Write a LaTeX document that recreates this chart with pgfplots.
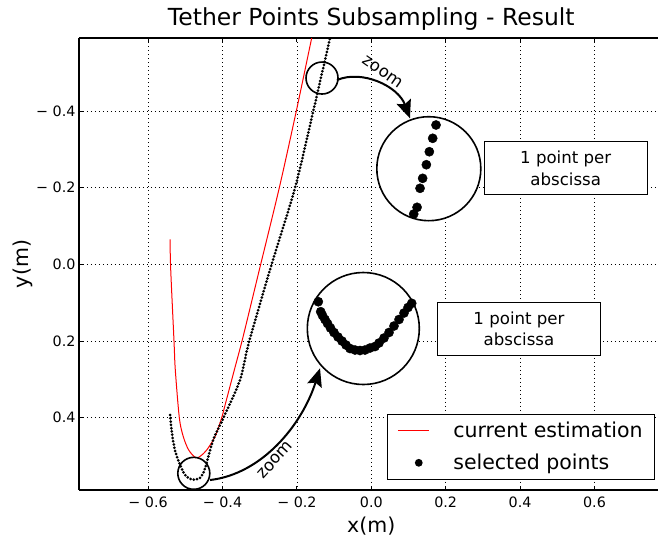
\documentclass[border=0pt]{standalone}
\usepackage{fontspec}
\setmainfont{DejaVu Sans}
\usepackage{pgfplots}
\pgfplotsset{compat=1.18}
\usetikzlibrary{calc,arrows.meta}

\begin{document}
\begin{tikzpicture}
\begin{axis}[
    name=ax,
    scale only axis,
    width=579pt, height=452pt,
    xmin=-0.7858, xmax=0.7707,
    ymin=-0.5904, ymax=0.5885,
    y dir=reverse,
    axis y line*=left,
    axis line style={line width=1.3pt},
    clip mode=individual,
    xtick={-0.6,-0.4,-0.2,0,0.2,0.4,0.6},
    xticklabels={−\ 0.6,−\ 0.4,−\ 0.2,0.0,0.2,0.4,0.6},
    ytick={-0.4,-0.2,0,0.2,0.4},
    yticklabels={−\ 0.4,−\ 0.2,0.0,0.2,0.4},
    ticklabel style={font=\fontsize{14.3}{16}\selectfont},
    xticklabel style={yshift=-3pt},
    tick align=inside,
    major tick length=4pt,
    tick style={black, line width=1pt},
    grid=major,
    major grid style={black, line width=0.7pt, dash pattern=on 0.8pt off 3.2pt},
    title={Tether Points Subsampling - Result},
    title style={at={(axis description cs:0.5048,1.0133)}, anchor=base, inner sep=0pt, font=\fontsize{23.5}{27}\selectfont},
    xlabel={x(m)},
    xlabel style={at={(axis description cs:0.5048,-0.0951)}, anchor=base, inner sep=0pt, font=\fontsize{20.5}{24}\selectfont},
    ylabel={y(m)},
    ylabel style={at={(axis description cs:-0.088,0.5)}, anchor=base, inner sep=0pt, font=\fontsize{20.5}{24}\selectfont},
    legend style={at={(1,0)}, anchor=south east, xshift=-2.7pt, yshift=10pt,
        draw=black, line width=1.3pt, fill=white,
        font=\fontsize{20.5}{24}\selectfont,
        inner xsep=10pt, inner ysep=6pt, row sep=11pt,
        /tikz/every odd column/.append style={column sep=22pt}},
    legend cell align=left,
]

% current estimation
\addplot[red, line width=1pt, smooth, tension=0.5,
    legend image code/.code={\draw[red, line width=1pt] (0pt,0pt) -- (31pt,0pt);}]
coordinates {
    (-0.5411,-0.0653) (-0.5392,0.0147) (-0.5304,0.2) (-0.5269,0.2756)
    (-0.5161,0.4) (-0.5054,0.4495) (-0.4909,0.4842) (-0.4720,0.5043)
    (-0.4591,0.4999) (-0.4425,0.4842) (-0.4202,0.4495) (-0.4022,0.4)
    (-0.3919,0.3624) (-0.3683,0.2756) (-0.3476,0.2) (-0.3228,0.1016)
    (-0.3011,0.0147) (-0.2473,-0.2) (-0.2016,-0.4) (-0.1602,-0.5904) (-0.155,-0.61)
};
\addlegendentry{current estimation}

% selected points
\addplot[black, line width=3pt, line cap=round, dash pattern=on 0pt off 3.3pt,
    smooth, tension=0.5,
    legend image code/.code={\node[circle, fill=black, inner sep=0pt, minimum size=7.8pt] at (15.5pt,0pt) {};}]
coordinates {
    (-0.541,0.393) (-0.537,0.432) (-0.528,0.484) (-0.514,0.523) (-0.501,0.549)
    (-0.483,0.561) (-0.4605,0.557) (-0.447,0.532) (-0.425,0.458) (-0.396,0.397)
    (-0.353,0.3016) (-0.328,0.2) (-0.268,0.0) (-0.205,-0.2) (-0.156,-0.4)
    (-0.111,-0.590) (-0.106,-0.61)
};
\addlegendentry{selected points}

% zoom circles
\draw[line width=1.6pt] (axis cs:-0.1325,-0.4860) circle[radius=16pt];
\draw[line width=1.6pt] (axis cs:-0.4772,0.5450) circle[radius=16pt];
\draw[line width=1.6pt, fill=white] (axis cs:0.1546,-0.2495) circle[radius=52pt];
\draw[line width=1.6pt, fill=white] (axis cs:-0.0215,0.1673) circle[radius=56pt];

% zoomed points
\addplot[only marks, mark=*, mark size=4.6pt, black, forget plot] coordinates {
    (0.174,-0.3635) (0.165,-0.3288) (0.156,-0.2938) (0.148,-0.2599)
    (0.138,-0.2244) (0.131,-0.1984) (0.123,-0.1488) (0.114,-0.1313)
};
\addplot[only marks, mark=*, mark size=4.6pt, black, forget plot] coordinates {
    (-0.1425,0.0974) (-0.1360,0.1235) (-0.1312,0.1334) (-0.1245,0.1438)
    (-0.1177,0.1543) (-0.1097,0.1660) (-0.1003,0.1778) (-0.0895,0.1895)
    (-0.0788,0.2000) (-0.0680,0.2104) (-0.0573,0.2195) (-0.0438,0.2234)
    (-0.0304,0.2247) (-0.0169,0.2234) (-0.0035,0.2182) (0.0099,0.2143)
    (0.0207,0.2051) (0.0341,0.1921) (0.0476,0.1777) (0.0610,0.1608)
    (0.0745,0.1438) (0.0879,0.1269) (0.0987,0.1125) (0.1086,0.1016)
};

% arrows
\draw[line width=2pt, -{Stealth[length=18pt,width=15pt,inset=3pt]}]
    (axis cs:-0.0922,-0.4808) .. controls (axis cs:-0.0250,-0.5085) and (axis cs:0.0718,-0.4652) .. (axis cs:0.1040,-0.3809);
\draw[line width=2pt, -{Stealth[length=18pt,width=15pt,inset=3pt]}]
    (axis cs:-0.4336,0.5625) .. controls (axis cs:-0.2938,0.5468) and (axis cs:-0.1863,0.4190) .. (axis cs:-0.1379,0.2711);
\node[rotate=-35, font=\fontsize{16.5}{18}\selectfont] at (axis cs:0.031,-0.5020) {zoom};
\node[rotate=48, font=\fontsize{16.5}{18}\selectfont] at (axis cs:-0.2590,0.5100) {zoom};

% notes
\node[draw=black, line width=1pt, fill=white, minimum width=163pt, minimum height=53pt,
    align=center, inner sep=0pt, font=\fontsize{16.6}{21.6}\selectfont]
    at (axis cs:0.5226,-0.2504) {1 point per\\abscissa};
\node[draw=black, line width=1pt, fill=white, minimum width=163pt, minimum height=53pt,
    align=center, inner sep=0pt, font=\fontsize{16.6}{21.6}\selectfont]
    at (axis cs:0.3970,0.1681) {1 point per\\abscissa};

\end{axis}
\pgfresetboundingbox
\path[use as bounding box] ($(ax.south west)+(-79pt,-48pt)$) rectangle ($(ax.north east)+(0pt,38pt)$);
\end{tikzpicture}
\end{document}
